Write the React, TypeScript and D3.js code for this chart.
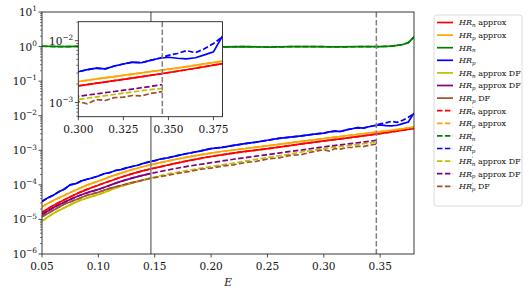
import React from 'react';
import * as d3 from 'd3';

// energy grids
const gridSmooth = [0.05, 0.06, 0.07, 0.08, 0.09, 0.10, 0.12, 0.14, 0.16, 0.18, 0.20, 0.22, 0.24, 0.26, 0.28, 0.30, 0.32, 0.34, 0.36, 0.38];
const gridDF = [0.05, 0.06, 0.07, 0.08, 0.09, 0.10, 0.12, 0.14, 0.1466, 0.16, 0.18, 0.20, 0.22, 0.24, 0.26, 0.28, 0.30, 0.32, 0.34, 0.3466];
const gridGreen = [0.05, 0.07, 0.09, 0.11, 0.13, 0.15, 0.17, 0.19, 0.21, 0.23, 0.25, 0.27, 0.29, 0.31, 0.33, 0.35, 0.36, 0.365, 0.37, 0.375, 0.38];
const gridBlue = [0.05, 0.055, 0.06, 0.065, 0.07, 0.075, 0.08, 0.085, 0.09, 0.095, 0.10, 0.105, 0.11, 0.115, 0.12, 0.125, 0.13, 0.135, 0.14, 0.145, 0.15, 0.155,
  0.16, 0.17, 0.18, 0.19, 0.20, 0.21, 0.22, 0.23, 0.24, 0.25, 0.26, 0.27, 0.28, 0.29, 0.30,
  0.305, 0.31, 0.315, 0.32, 0.325, 0.33, 0.335, 0.34, 0.345, 0.35, 0.355, 0.36, 0.365, 0.37, 0.375, 0.38];
const gridBrown = [0.05, 0.06, 0.07, 0.08, 0.09, 0.10, 0.11, 0.12, 0.13, 0.14, 0.1466, 0.15, 0.16, 0.17, 0.18, 0.19, 0.20, 0.21, 0.22, 0.23, 0.24, 0.25,
  0.26, 0.27, 0.28, 0.29, 0.30, 0.305, 0.31, 0.315, 0.32, 0.325, 0.33, 0.335, 0.34, 0.3466];

// series values
const hrNApprox = [1.58e-5, 2.51e-5, 3.72e-5, 5.37e-5, 7.41e-5, 9.77e-5, 1.66e-4, 2.57e-4, 3.63e-4, 5.01e-4, 6.61e-4, 8.32e-4, 1.01e-3, 1.23e-3, 1.53e-3, 1.86e-3, 2.26e-3, 2.75e-3, 3.39e-3, 4.27e-3];
const hrPApprox = [2.34e-5, 3.55e-5, 5.0e-5, 7.1e-5, 9.8e-5, 1.29e-4, 2.19e-4, 3.39e-4, 4.79e-4, 6.46e-4, 8.3e-4, 1.02e-3, 1.23e-3, 1.48e-3, 1.82e-3, 2.19e-3, 2.63e-3, 3.16e-3, 3.8e-3, 4.68e-3];
const hrN = [1.02, 0.99, 1.03, 1.0, 0.98, 1.02, 1.0, 1.01, 0.98, 1.0, 0.97, 0.99, 1.0, 0.98, 0.99, 1.0, 1.03, 1.08, 1.15, 1.3, 1.9];
const hrP = [3.3e-5, 4.2e-5, 5.0e-5, 6.3e-5, 7.6e-5, 1.0e-4, 1.08e-4, 1.3e-4, 1.45e-4, 1.6e-4, 1.8e-4, 2.1e-4, 2.25e-4, 2.6e-4, 2.75e-4, 3.1e-4, 3.4e-4, 3.7e-4, 4.2e-4, 4.6e-4, 5.0e-4, 5.6e-4,
  5.9e-4, 7.0e-4, 8.2e-4, 9.5e-4, 1.12e-3, 1.22e-3, 1.38e-3, 1.55e-3, 1.72e-3, 1.95e-3, 2.2e-3, 2.4e-3, 2.6e-3, 2.9e-3, 3.15e-3,
  3.4e-3, 3.6e-3, 3.5e-3, 3.9e-3, 4.2e-3, 4.5e-3, 4.4e-3, 4.8e-3, 5.2e-3, 5.4e-3, 5.2e-3, 5.1e-3, 5.3e-3, 5.9e-3, 6.6e-3, 1.2e-2];
const hrPPrime = [...hrP.slice(0, 46), 5.8e-3, 6.2e-3, 6.9e-3, 6.4e-3, 7.4e-3, 9.0e-3, 1.15e-2];
const hrNApproxDF = [8.9e-6, 1.48e-5, 2.19e-5, 3.16e-5, 4.17e-5, 5.25e-5, 9.12e-5, 1.38e-4, 1.58e-4, 2.0e-4, 2.63e-4, 3.39e-4, 4.27e-4, 5.5e-4, 6.92e-4, 8.9e-4, 1.12e-3, 1.35e-3, 1.62e-3, 1.7e-3];
const hrPApproxDF = [1.38e-5, 2.19e-5, 3.16e-5, 4.47e-5, 5.89e-5, 7.41e-5, 1.26e-4, 1.91e-4, 2.14e-4, 2.63e-4, 3.47e-4, 4.37e-4, 5.5e-4, 6.76e-4, 8.32e-4, 1.02e-3, 1.26e-3, 1.51e-3, 1.82e-3, 1.95e-3];
const hrPDF = [1.2e-5, 1.85e-5, 2.8e-5, 3.7e-5, 5.0e-5, 6.1e-5, 7.9e-5, 9.6e-5, 1.16e-4, 1.38e-4, 1.55e-4, 1.62e-4, 1.85e-4, 2.15e-4, 2.4e-4, 2.8e-4, 3.05e-4, 3.5e-4, 3.8e-4, 4.4e-4, 4.8e-4, 5.6e-4,
  6.0e-4, 7.1e-4, 7.5e-4, 9.0e-4, 1.04e-3, 0.95e-3, 1.12e-3, 1.08e-3, 1.2e-3, 1.22e-3, 1.3e-3, 1.28e-3, 1.4e-3, 1.5e-3];

const xTicks = [0.05, 0.10, 0.15, 0.20, 0.25, 0.30, 0.35];
const yExps = [-6, -5, -4, -3, -2, -1, 0, 1];
const insetXTicks = [0.300, 0.325, 0.350, 0.375];
const insetYExps = [-3, -2];
const eSolid = 0.1466;
const eDashed = 0.3466;

const FONT = 'DejaVu Serif';
const DASH = '5.5,2.4';

type Series = { sub: string; prime: boolean; rest: string; color: string; dashed: boolean; xs: number[]; ys: number[]; smooth: boolean };

const upTo = (xs: number[], ys: number[], lim: number) => {
  const n = xs.filter(x => x <= lim + 1e-9).length;
  return { xs: xs.slice(0, n), ys: ys.slice(0, n) };
};

const dfSolid = upTo(gridDF, hrNApproxDF, eSolid);
const dfpSolid = upTo(gridDF, hrPApproxDF, eSolid);
const brSolid = upTo(gridBrown, hrPDF, eSolid);

const series: Series[] = [
  { sub: 'n', prime: false, rest: ' approx', color: '#ff0000', dashed: false, xs: gridSmooth, ys: hrNApprox, smooth: true },
  { sub: 'p', prime: false, rest: ' approx', color: '#ffa500', dashed: false, xs: gridSmooth, ys: hrPApprox, smooth: true },
  { sub: 'n', prime: false, rest: '', color: '#008000', dashed: false, xs: gridGreen, ys: hrN, smooth: false },
  { sub: 'p', prime: false, rest: '', color: '#0000ff', dashed: false, xs: gridBlue, ys: hrP, smooth: false },
  { sub: 'n', prime: false, rest: ' approx DF', color: '#bfbf00', dashed: false, xs: dfSolid.xs, ys: dfSolid.ys, smooth: true },
  { sub: 'p', prime: false, rest: ' approx DF', color: '#800080', dashed: false, xs: dfpSolid.xs, ys: dfpSolid.ys, smooth: true },
  { sub: 'p', prime: false, rest: ' DF', color: '#a0522d', dashed: false, xs: brSolid.xs, ys: brSolid.ys, smooth: false },
  { sub: 'n', prime: true, rest: ' approx', color: '#ff0000', dashed: true, xs: gridSmooth, ys: hrNApprox, smooth: true },
  { sub: 'p', prime: true, rest: ' approx', color: '#ffa500', dashed: true, xs: gridSmooth, ys: hrPApprox, smooth: true },
  { sub: 'n', prime: true, rest: '', color: '#008000', dashed: true, xs: gridGreen, ys: hrN, smooth: false },
  { sub: 'p', prime: true, rest: '', color: '#0000ff', dashed: true, xs: gridBlue, ys: hrPPrime, smooth: false },
  { sub: 'n', prime: true, rest: ' approx DF', color: '#bfbf00', dashed: true, xs: gridDF, ys: hrNApproxDF, smooth: true },
  { sub: 'p', prime: true, rest: ' approx DF', color: '#800080', dashed: true, xs: gridDF, ys: hrPApproxDF, smooth: true },
  { sub: 'p', prime: true, rest: ' DF', color: '#a0522d', dashed: true, xs: gridBrown, ys: hrPDF, smooth: false },
];

const Pow = ({ x, y, exp, size, anchor }: { x: number; y: number; exp: number; size: number; anchor: string }) => (
  <text x={x} y={y} fontSize={size} fontFamily={FONT} textAnchor={anchor} fill="#111">
    10<tspan dy={-size * 0.45} fontSize={size * 0.7}>{exp < 0 ? '\u2212' + (-exp) : exp}</tspan>
  </text>
);

const Plot = ({ x, y, clipId }: { x: d3.ScaleLinear<number, number>; y: d3.ScaleLogarithmic<number, number>; clipId: string }) => (
  <g clipPath={`url(#${clipId})`}>
    {series.map((s, i) => {
      const line = d3.line<number>()
        .x((_, j) => x(s.xs[j]))
        .y(d => y(d))
        .curve(s.smooth ? d3.curveMonotoneX : d3.curveLinear);
      return <path key={i} d={line(s.ys) || ''} fill="none" stroke={s.color} strokeWidth={1.7}
        strokeDasharray={s.dashed ? DASH : undefined} />;
    })}
  </g>
);

export default function App() {
  const left = 42, right = 414, top = 12, bottom = 254;
  const x = d3.scaleLinear().domain([0.05, 0.38]).range([left, right]);
  const y = d3.scaleLog().domain([1e-6, 1e1]).range([bottom, top]);

  const il = 78.3, ir = 222.5, it = 21.7, ib = 116.7;
  const ix = d3.scaleLinear().domain([0.30, 0.38]).range([il, ir]);
  const iy = d3.scaleLog().domain([5.9e-4, 2.03e-2]).range([ib, it]);

  const minorMain: number[] = [];
  for (let k = -6; k < 1; k++) for (let m = 2; m < 10; m++) minorMain.push(m * Math.pow(10, k));
  const minorInset: number[] = [];
  for (let k = -4; k < -1; k++) for (let m = 2; m < 10; m++) {
    const v = m * Math.pow(10, k);
    if (v >= 5.9e-4 && v <= 2.03e-2) minorInset.push(v);
  }

  const legX = 434, legY = 15, legW = 88, legH = 191;
  const rowH = 12.6;

  return (
    <svg width={530} height={296} style={{ position: 'absolute', left: 0, top: 0, background: '#fff' }}>
      <defs>
        <clipPath id="mainClip"><rect x={left} y={top} width={right - left} height={bottom - top} /></clipPath>
        <clipPath id="insetClip"><rect x={il} y={it} width={ir - il} height={ib - it} /></clipPath>
      </defs>
      <rect width={530} height={296} fill="#fff" />

      {/* main axes */}
      <Plot x={x} y={y} clipId="mainClip" />
      <line x1={x(eSolid)} x2={x(eSolid)} y1={top} y2={bottom} stroke="#808080" strokeWidth={1.5} />
      <line x1={x(eDashed)} x2={x(eDashed)} y1={top} y2={bottom} stroke="#808080" strokeWidth={1.5} strokeDasharray={DASH} />
      <rect x={left} y={top} width={right - left} height={bottom - top} fill="none" stroke="#222" strokeWidth={0.9} />
      {xTicks.map(t => (
        <g key={t}>
          <line x1={x(t)} x2={x(t)} y1={bottom} y2={bottom + 3.5} stroke="#222" strokeWidth={0.8} />
          <text x={x(t)} y={bottom + 16} fontSize={10.5} fontFamily={FONT} textAnchor="middle" fill="#111">{t.toFixed(2)}</text>
        </g>
      ))}
      {minorMain.map(v => (
        <line key={v} x1={left - 2} x2={left} y1={y(v)} y2={y(v)} stroke="#222" strokeWidth={0.6} />
      ))}
      {yExps.map(e => (
        <g key={e}>
          <line x1={left - 3.5} x2={left} y1={y(Math.pow(10, e))} y2={y(Math.pow(10, e))} stroke="#222" strokeWidth={0.8} />
          <Pow x={left - 5} y={y(Math.pow(10, e)) + 4} exp={e} size={10.5} anchor="end" />
        </g>
      ))}
      <text x={(left + right) / 2} y={286} fontSize={10.5} fontFamily={FONT} fontStyle="italic" textAnchor="middle" fill="#111">E</text>

      {/* inset */}
      <rect x={il} y={it} width={ir - il} height={ib - it} fill="#fff" />
      <Plot x={ix} y={iy} clipId="insetClip" />
      <line x1={ix(eDashed)} x2={ix(eDashed)} y1={it} y2={ib} stroke="#808080" strokeWidth={1.5} strokeDasharray={DASH} />
      <rect x={il} y={it} width={ir - il} height={ib - it} fill="none" stroke="#222" strokeWidth={0.9} />
      {insetXTicks.map(t => (
        <g key={t}>
          <line x1={ix(t)} x2={ix(t)} y1={ib} y2={ib + 3.5} stroke="#222" strokeWidth={0.8} />
          <text x={ix(t)} y={ib + 16} fontSize={10.5} fontFamily={FONT} textAnchor="middle" fill="#111">{t.toFixed(3)}</text>
        </g>
      ))}
      {minorInset.map(v => (
        <line key={v} x1={il - 2} x2={il} y1={iy(v)} y2={iy(v)} stroke="#222" strokeWidth={0.6} />
      ))}
      {insetYExps.map(e => (
        <g key={e}>
          <line x1={il - 3.5} x2={il} y1={iy(Math.pow(10, e))} y2={iy(Math.pow(10, e))} stroke="#222" strokeWidth={0.8} />
          <Pow x={il - 5} y={iy(Math.pow(10, e)) + 4} exp={e} size={10.5} anchor="end" />
        </g>
      ))}

      {/* legend */}
      <rect x={legX} y={legY} width={legW} height={legH} rx={2.5} fill="#fff" fillOpacity={0.8} stroke="#d0d0d0" strokeWidth={0.8} />
      {series.map((s, i) => {
        const cy = legY + 7.5 + i * rowH;
        return (
          <g key={i}>
            <line x1={legX + 3} x2={legX + 19} y1={cy} y2={cy} stroke={s.color} strokeWidth={1.7}
              strokeDasharray={s.dashed ? DASH : undefined} />
            <text x={legX + 25} y={cy + 2.8} fontSize={8} fontFamily={FONT} fill="#111">
              <tspan fontStyle="italic">HR</tspan>
              {s.prime && <tspan dy={-2.6} fontSize={6}>{'\u2032'}</tspan>}
              <tspan dx={s.prime ? -1.6 : 0} dy={s.prime ? 4.4 : 1.8} fontSize={5.6} fontStyle="italic">{s.sub}</tspan>
              <tspan dy={-1.8} fontSize={8}>{s.rest}</tspan>
            </text>
          </g>
        );
      })}
    </svg>
  );
}
